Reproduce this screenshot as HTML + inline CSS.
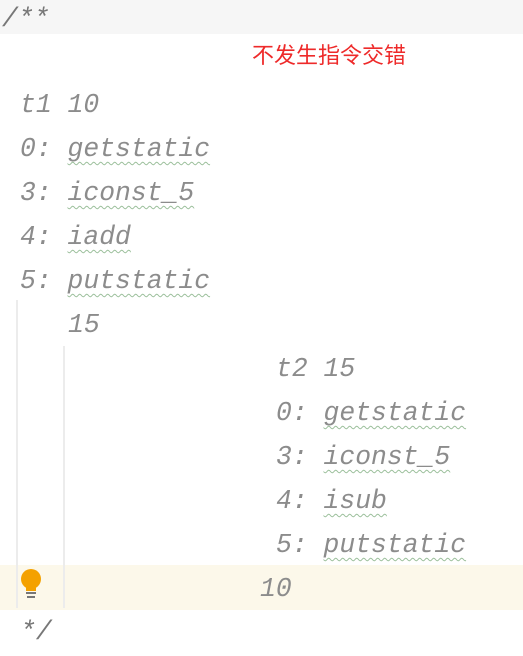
<!DOCTYPE html>
<html><head><meta charset="utf-8"><style>
body{margin:0;width:523px;height:656px;background:#fff;position:relative;overflow:hidden;font-family:"Liberation Mono",monospace;}
.t{position:absolute;font-style:italic;font-size:26.4px;color:#8c8c8c;white-space:pre;line-height:30px;}
.w{text-decoration:underline wavy #9bbf9b;text-decoration-thickness:1px;text-underline-offset:5px;}
</style></head><body>
<div style="position:absolute;left:0;top:0;width:523px;height:34px;background:#f6f6f6"></div>
<div style="position:absolute;left:0;top:565px;width:523px;height:45px;background:#fcf8ea"></div>
<div style="position:absolute;left:16px;top:300px;width:2px;height:308px;background:#ececec"></div>
<div style="position:absolute;left:63px;top:346px;width:2px;height:262px;background:#ececec"></div>
<div class="t" style="left:2px;top:4px;color:#777">/**</div>
<div style="position:absolute;left:252px;top:38px;font-family:'Liberation Sans','Noto Sans CJK SC',sans-serif;font-size:22px;color:#ee2a2a">不发生指令交错</div>
<div class="t" style="left:20px;top:90px">t1 10</div>
<div class="t" style="left:20px;top:134px">0: <span class="w">getstatic</span></div>
<div class="t" style="left:20px;top:178px">3: <span class="w">iconst_5</span></div>
<div class="t" style="left:20px;top:222px">4: <span class="w">iadd</span></div>
<div class="t" style="left:20px;top:266px">5: <span class="w">putstatic</span></div>
<div class="t" style="left:68px;top:310px">15</div>
<div class="t" style="left:276px;top:354px">t2 15</div>
<div class="t" style="left:276px;top:398px">0: <span class="w">getstatic</span></div>
<div class="t" style="left:276px;top:442px">3: <span class="w">iconst_5</span></div>
<div class="t" style="left:276px;top:486px">4: <span class="w">isub</span></div>
<div class="t" style="left:276px;top:530px">5: <span class="w">putstatic</span></div>
<div class="t" style="left:260px;top:574px">10</div>
<div style="position:absolute;left:21px;top:569px;width:20px;height:20px;border-radius:50%;background:#f4a100"></div>
<div style="position:absolute;left:26px;top:585px;width:10px;height:6px;background:#f4a100"></div>
<div style="position:absolute;left:26px;top:592px;width:10px;height:2px;background:#777"></div>
<div style="position:absolute;left:27px;top:596px;width:8px;height:2px;background:#777"></div>
<div class="t" style="left:20px;top:617px;color:#777">*/</div>
</body></html>
